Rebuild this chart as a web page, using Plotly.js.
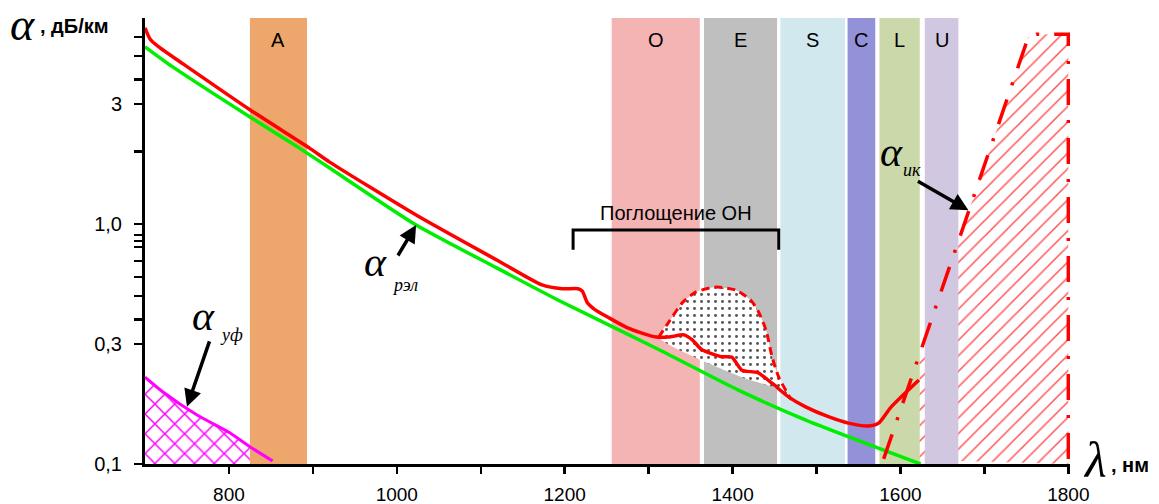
<!DOCTYPE html>
<html>
<head>
<meta charset="utf-8">
<script src="https://cdn.plot.ly/plotly-3.0.1.min.js"></script>
<style>html,body{margin:0;padding:0;background:#fff;}#chart{width:1159px;height:504px;}</style>
</head>
<body>
<div id="chart"></div>
<script>
// ---- data (wavelength, nm ; attenuation, dB/km) ----
const rayX = [700, 733, 825, 884, 920, 1023, 1119, 1193, 1312, 1407, 1488, 1624];
const rayY = [5.47, 4.51, 2.79, 2.07, 1.71, 0.99, 0.656, 0.48, 0.30, 0.203, 0.152, 0.1];

const totX = [700, 706, 718, 742, 825, 896, 920, 1023, 1119, 1173, 1197, 1216, 1221, 1227, 1236, 1253, 1273, 1292, 1309, 1324, 1342, 1352, 1363, 1387, 1399, 1411, 1430, 1447, 1467, 1487, 1515, 1538, 1562, 1574, 1589, 1622];
const totY = [6.56, 5.9, 5.41, 4.73, 2.99, 2.07, 1.81, 1.09, 0.708, 0.557, 0.537, 0.537, 0.525, 0.47, 0.44, 0.406, 0.372, 0.351, 0.338, 0.338, 0.345, 0.329, 0.30, 0.28, 0.279, 0.246, 0.24, 0.217, 0.19, 0.173, 0.157, 0.148, 0.144, 0.148, 0.173, 0.224];

const ohX = [1312, 1324, 1340, 1356, 1380, 1404, 1422, 1431, 1440, 1447, 1455, 1470];
const ohY = [0.338, 0.39, 0.469, 0.52, 0.546, 0.53, 0.48, 0.43, 0.36, 0.28, 0.23, 0.185];
const ohBaseX = [1470, 1450, 1411, 1312];
const ohBaseY = [0.185, 0.208, 0.23, 0.338];
const ohRange = [1210, 1455];

const uvX = [700, 721, 762, 801, 825, 852];
const uvY = [0.23, 0.2, 0.16, 0.135, 0.118, 0.103];

const irX = [1580, 1600, 1625, 1650, 1675, 1700, 1725, 1752, 1762, 1800, 1800];
const irY = [0.105, 0.169, 0.303, 0.543, 0.975, 1.75, 3.13, 5.96, 6.17, 6.17, 0.1];

const bandNames = ['A', 'O', 'E', 'S', 'C', 'L', 'U'];
const bandStart = [825, 1256, 1366, 1457, 1537, 1575, 1629];
const bandEnd   = [893, 1361, 1453, 1534, 1570, 1623, 1669];
const bandColors = ['#EDA66B', '#F4B4B4', '#BFBFBF', '#D1E8EE', '#9391D8', '#CBD9AA', '#D1C7E0'];

const xTickVals = [800, 900, 1000, 1100, 1200, 1300, 1400, 1500, 1600, 1700, 1800];
const xTickText = ['800', '', '1000', '', '1200', '', '1400', '', '1600', '', '1800'];
const yTickVals = [0.1, 0.316, 0.4, 0.5, 0.6, 0.7, 0.8, 0.85, 0.9, 1, 2, 3.16, 4, 5, 6];
const yTickText = ['0,1', '0,3', '', '', '', '', '', '', '', '1,0', '', '3', '', '', ''];

// ---- helpers ----
const YMIN = 0.1, YTOP = 10;
const SANS = 'Liberation Sans, Arial, sans-serif';
const SERIF = 'Liberation Serif, Times New Roman, serif';
const L = 145, R = 1070, T = 18, B = 464;
const px = v => (v - L) / (R - L);
const py = v => (B - v) / (B - T);

const traces = [];

// UV hatch (stops where band A begins)
const uvCut = uvX.findIndex(v => v >= bandStart[0]);
const uvFillX = uvX.slice(0, uvCut + 1).concat([uvX[uvCut], uvX[0]]);
const uvFillY = uvY.slice(0, uvCut + 1).concat([YMIN, YMIN]);
traces.push({x: uvFillX, y: uvFillY, mode: 'none', fill: 'toself', fillcolor: 'rgba(255,255,255,0)',
  line: {shape: 'spline', smoothing: 0.6},
  fillpattern: {shape: 'x', fgcolor: '#FF00FF', bgcolor: 'rgba(255,255,255,0)', size: 14, solidity: 0.2}, hoverinfo: 'skip'});

// IR hatch
traces.push({x: irX, y: irY, mode: 'none', fill: 'toself', fillcolor: 'rgba(255,255,255,0)',
  fillpattern: {shape: '/', fgcolor: '#FF5555', bgcolor: 'rgba(255,255,255,0)', size: 11, solidity: 0.14}, hoverinfo: 'skip'});

// bands
bandNames.forEach((n, i) => {
  traces.push({x: [bandStart[i], bandEnd[i], bandEnd[i], bandStart[i], bandStart[i]],
    y: [YMIN * 0.9, YMIN * 0.9, YTOP, YTOP, YMIN * 0.9], mode: 'none', fill: 'toself',
    fillcolor: bandColors[i], hoverinfo: 'skip'});
});

// OH dotted region
traces.push({x: ohX.concat(ohBaseX), y: ohY.concat(ohBaseY), mode: 'none', fill: 'toself', fillcolor: '#ffffff',
  line: {shape: 'spline', smoothing: 0.6},
  fillpattern: {shape: '.', fgcolor: '#555555', bgcolor: '#ffffff', size: 7, solidity: 0.14, fillmode: 'replace'}, hoverinfo: 'skip'});

// Rayleigh (green)
traces.push({x: rayX, y: rayY, mode: 'lines', line: {color: '#00EE00', width: 3.5, shape: 'spline', smoothing: 0.6}, hoverinfo: 'skip'});
// total (red)
traces.push({x: totX, y: totY, mode: 'lines', line: {color: '#FF0000', width: 3.5, shape: 'spline', smoothing: 0.6}, hoverinfo: 'skip'});
// OH peak (dashed)
traces.push({x: ohX, y: ohY, mode: 'lines', line: {color: '#FF0000', width: 3, dash: '8px,5px', shape: 'spline', smoothing: 0.6}, hoverinfo: 'skip'});
// UV
traces.push({x: uvX, y: uvY, mode: 'lines', line: {color: '#FF00FF', width: 3, shape: 'spline', smoothing: 0.6}, hoverinfo: 'skip'});
// IR (dash-dot)
traces.push({x: irX, y: irY, mode: 'lines', line: {color: '#FF0000', width: 3.5, dash: '26px,15px,3px,15px'}, hoverinfo: 'skip'});
// OH bracket
traces.push({x: [ohRange[0], ohRange[0], ohRange[1], ohRange[1]], y: [0.78, 0.944, 0.944, 0.78], mode: 'lines',
  line: {color: '#000000', width: 3}, hoverinfo: 'skip'});

const annotations = [];
bandNames.forEach((n, i) => {
  annotations.push({x: (bandStart[i] + bandEnd[i]) / 2, y: py(40), xref: 'x', yref: 'paper', text: n,
    showarrow: false, font: {family: SANS, size: 20, color: '#000'}, xanchor: 'center', yanchor: 'middle'});
});
annotations.push({x: (ohRange[0] + ohRange[1]) / 2, y: Math.log10(1.11), xref: 'x', yref: 'y', text: 'Поглощение OH',
  showarrow: false, font: {family: SANS, size: 20, color: '#000'}, xanchor: 'center', yanchor: 'middle'});

// axis titles
annotations.push({x: px(22), y: py(24), xref: 'paper', yref: 'paper', text: '<i>α</i>', showarrow: false,
  font: {family: SERIF, size: 46, color: '#000'}, xanchor: 'center', yanchor: 'middle'});
annotations.push({x: px(38), y: py(26), xref: 'paper', yref: 'paper', text: '<b>, дБ/км</b>', showarrow: false,
  font: {family: SANS, size: 20, color: '#000'}, xanchor: 'left', yanchor: 'middle'});
annotations.push({x: px(1095), y: py(460), xref: 'paper', yref: 'paper', text: '<i>λ</i>', showarrow: false,
  font: {family: SERIF, size: 50, color: '#000'}, xanchor: 'center', yanchor: 'middle'});
annotations.push({x: px(1109), y: py(465), xref: 'paper', yref: 'paper', text: '<b>, нм</b>', showarrow: false,
  font: {family: SANS, size: 20, color: '#000'}, xanchor: 'left', yanchor: 'middle'});

// curve labels
const lab = (ax, ay, sx, sy, sub) => {
  annotations.push({x: px(ax), y: py(ay), xref: 'paper', yref: 'paper', text: '<i>α</i>', showarrow: false,
    font: {family: SERIF, size: 42, color: '#000'}, xanchor: 'center', yanchor: 'middle'});
  annotations.push({x: px(sx), y: py(sy), xref: 'paper', yref: 'paper', text: '<i>' + sub + '</i>', showarrow: false,
    font: {family: SERIF, size: 18, color: '#000'}, xanchor: 'center', yanchor: 'middle'});
};
lab(375, 262, 405, 285, 'рэл');
lab(203, 316, 231, 335, 'уф');
lab(891, 152, 912, 170, 'ик');

// arrows
const arrow = (x, yv, ax, ay) => annotations.push({x: x, y: Math.log10(yv), xref: 'x', yref: 'y', ax: ax, ay: ay,
  text: '', showarrow: true, arrowhead: 2, arrowsize: 1, arrowwidth: 3.5, arrowcolor: '#000', standoff: 0});
arrow(1023, 0.99, -19, 32);
arrow(750, 0.173, 23, -67);
arrow(1681, 1.14, -52, -30);

const layout = {
  width: 1159, height: 504,
  margin: {l: L, r: 1159 - R, t: T, b: 504 - B, pad: 0},
  paper_bgcolor: '#ffffff', plot_bgcolor: '#ffffff',
  showlegend: false,
  xaxis: {range: [700, 1802], tickmode: 'array', tickvals: xTickVals, ticktext: xTickText,
    ticks: 'outside', ticklen: 7, tickwidth: 2.5, tickcolor: '#000', showline: true, linewidth: 3, linecolor: '#000',
    showgrid: false, zeroline: false, ticklabelstandoff: 4, tickfont: {family: SANS, size: 19, color: '#000'}},
  yaxis: {type: 'log', range: [-1, 0.858], tickmode: 'array', tickvals: yTickVals, ticktext: yTickText,
    ticks: 'outside', ticklen: 8, tickwidth: 2.5, tickcolor: '#000', showline: true, linewidth: 3, linecolor: '#000',
    showgrid: false, zeroline: false, ticklabelstandoff: 8, tickfont: {family: SANS, size: 20, color: '#000'}},
  annotations: annotations
};

Plotly.newPlot('chart', traces, layout, {staticPlot: true, displayModeBar: false});
</script>
</body>
</html>
